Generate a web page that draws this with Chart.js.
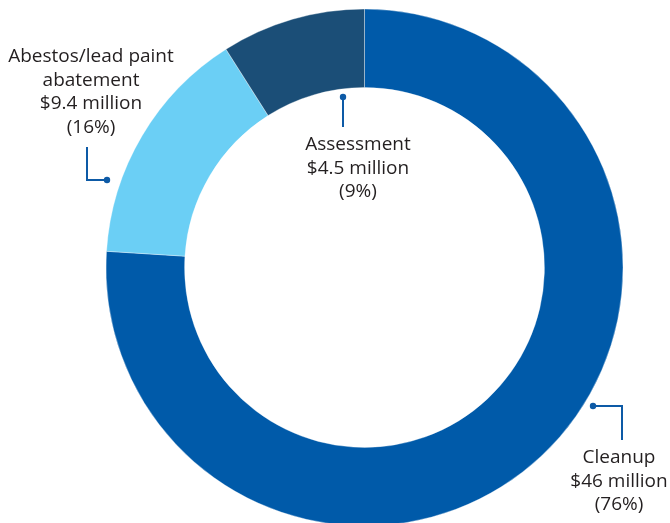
<!DOCTYPE html>
<html>
<head>
<meta charset="utf-8">
<script src="https://cdn.jsdelivr.net/npm/chart.js@4"></script>
<style>
  html, body { margin: 0; padding: 0; background: #fff; }
  #wrap { width: 670px; height: 523px; position: relative; }
</style>
</head>
<body>
<div id="wrap"><canvas id="myChart"></canvas></div>
<script>
// chart data
const categories = ['Cleanup', 'Abestos/lead paint abatement', 'Assessment'];
const amountLabels = ['$46 million', '$9.4 million', '$4.5 million'];
const percentLabels = ['(76%)', '(16%)', '(9%)'];
// share of the ring as drawn (percent)
const shares = [76, 15, 9];
const colors = ['#005aa9', '#6bcff5', '#1b4e77'];

const lineColor = '#0d5aa6';
const textColor = '#231f20';

// text blocks and leader lines for each slice
const callouts = [
    { // Cleanup
        lines: ['Cleanup', amountLabels[0], percentLabels[0]],
        x: 619, y: 463,
        path: [[593, 406], [622, 406], [622, 440]]
    },
    { // Abestos
        lines: ['Abestos/lead paint', 'abatement', amountLabels[1], percentLabels[1]],
        x: 91, y: 62,
        path: [[107, 180], [87, 180], [87, 147]]
    },
    { // Assessment
        lines: ['Assessment', amountLabels[2], percentLabels[2]],
        x: 358, y: 150,
        path: [[343, 97], [343, 127]]
    }
];

const calloutPlugin = {
    id: 'callouts',
    afterDraw(chart) {
        const ctx = chart.ctx;
        ctx.save();
        callouts.forEach(c => {
            ctx.strokeStyle = lineColor;
            ctx.lineWidth = 2;
            ctx.beginPath();
            c.path.forEach((p, i) => {
                if (i === 0) ctx.moveTo(p[0], p[1]);
                else ctx.lineTo(p[0], p[1]);
            });
            ctx.stroke();
            ctx.fillStyle = lineColor;
            ctx.beginPath();
            ctx.arc(c.path[0][0], c.path[0][1], 3.2, 0, Math.PI * 2);
            ctx.fill();

            ctx.fillStyle = textColor;
            ctx.font = '19px "Open Sans"';
            ctx.textAlign = 'center';
            ctx.textBaseline = 'alphabetic';
            c.lines.forEach((t, i) => {
                ctx.fillText(t, c.x, c.y + i * 23.5);
            });
        });
        ctx.restore();
    }
};

const ctx = document.getElementById('myChart').getContext('2d');
const myChart = new Chart(ctx, {
    type: 'doughnut',
    data: {
        labels: categories,
        datasets: [{
            data: shares,
            backgroundColor: colors,
            borderColor: 'rgba(255,255,255,0.35)',
            borderWidth: 1,
            radius: 258.5,
            cutout: 177.5,
            clip: false
        }]
    },
    options: {
        responsive: true,
        maintainAspectRatio: false,
        animation: false,
        layout: {
            padding: { left: 59, right: 0, top: 12, bottom: 0 }
        },
        plugins: {
            legend: { display: false },
            tooltip: { enabled: false }
        }
    },
    plugins: [calloutPlugin]
});
</script>
</body>
</html>
